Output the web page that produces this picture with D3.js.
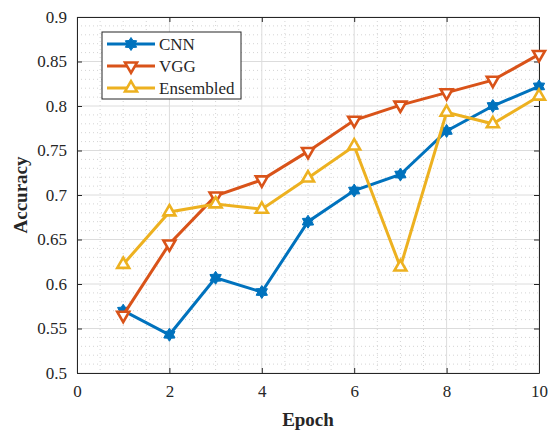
<!DOCTYPE html>
<html>
<head>
<meta charset="utf-8">
<script src="https://cdn.jsdelivr.net/npm/d3@7"></script>
<style>
  body { margin: 0; background: #fff; }
  svg text { font-family: "Liberation Serif", "Times New Roman", serif; }
</style>
</head>
<body>
<div id="chart"></div>
<script>
// data
var epochs = [1, 2, 3, 4, 5, 6, 7, 8, 9, 10];
var cnn = [0.570, 0.543, 0.607, 0.591, 0.670, 0.705, 0.723, 0.772, 0.800, 0.822];
var vgg = [0.565, 0.645, 0.699, 0.717, 0.749, 0.784, 0.801, 0.815, 0.829, 0.858];
var ensembled = [0.622, 0.681, 0.690, 0.684, 0.719, 0.755, 0.619, 0.793, 0.780, 0.811];
var seriesNames = ["CNN", "VGG", "Ensembled"];
var xTicks = [0, 2, 4, 6, 8, 10];
var yTicks = [0.5, 0.55, 0.6, 0.65, 0.7, 0.75, 0.8, 0.85, 0.9];

function init(){
	var w = 548;
	var h = 431;
	var left = 77, right = 539, top = 17, bottom = 373;

	var svg = d3.select("#chart")
		.append("svg")
		.attr("width", w)
		.attr("height", h);

	var x = d3.scaleLinear().domain([0, 10]).range([left, right]);
	var y = d3.scaleLinear().domain([0.5, 0.9]).range([bottom, top]);

	// minor grid (dotted)
	var minorX = d3.range(0, 10.001, 0.5).filter(function(v){ return Math.abs(v % 2) > 0.01; });
	var minorY = d3.range(0.5, 0.9001, 0.01).filter(function(v){
		var r = Math.round(v * 100) % 5; return r !== 0;
	});
	svg.selectAll(".minx").data(minorX).enter().append("line")
		.attr("x1", d => x(d)).attr("x2", d => x(d))
		.attr("y1", top).attr("y2", bottom)
		.attr("stroke", "#d4d4d4").attr("stroke-width", 1)
		.attr("stroke-dasharray", "1,3");
	svg.selectAll(".miny").data(minorY).enter().append("line")
		.attr("x1", left).attr("x2", right)
		.attr("y1", d => y(d)).attr("y2", d => y(d))
		.attr("stroke", "#d4d4d4").attr("stroke-width", 1)
		.attr("stroke-dasharray", "1,3");

	// major grid
	svg.selectAll(".gx").data(xTicks).enter().append("line")
		.attr("x1", d => x(d)).attr("x2", d => x(d))
		.attr("y1", top).attr("y2", bottom)
		.attr("stroke", "#dcdcdc").attr("stroke-width", 1);
	svg.selectAll(".gy").data(yTicks).enter().append("line")
		.attr("x1", left).attr("x2", right)
		.attr("y1", d => y(d)).attr("y2", d => y(d))
		.attr("stroke", "#dcdcdc").attr("stroke-width", 1);

	// axes
	var xAxis = d3.axisBottom(x).tickValues(xTicks).tickSizeInner(-5).tickSizeOuter(0).tickPadding(12);
	var yAxis = d3.axisLeft(y).tickValues(yTicks).tickSizeInner(-5).tickSizeOuter(0).tickPadding(10)
		.tickFormat(function(d){ return d3.format("")(+d.toFixed(2)); });
	var xTop = d3.axisTop(x).tickValues(xTicks).tickSizeInner(-5).tickSizeOuter(0).tickFormat("");
	var yRight = d3.axisRight(y).tickValues(yTicks).tickSizeInner(-5).tickSizeOuter(0).tickFormat("");

	var gx = svg.append("g").attr("transform", "translate(0," + bottom + ")").call(xAxis);
	var gy = svg.append("g").attr("transform", "translate(" + left + ",0)").call(yAxis);
	svg.append("g").attr("transform", "translate(0," + top + ")").call(xTop);
	svg.append("g").attr("transform", "translate(" + right + ",0)").call(yRight);

	svg.selectAll(".domain").attr("stroke", "#262626");
	svg.selectAll(".tick line").attr("stroke", "#262626");
	[gx, gy].forEach(function(g){
		g.attr("font-family", "Liberation Serif").attr("font-size", 17);
		g.selectAll("text").attr("fill", "#262626")
			.style("font-family", "'Liberation Serif', serif").style("font-size", "17px");
	});

	// axis labels
	svg.append("text")
		.attr("x", (left + right) / 2).attr("y", 426)
		.attr("text-anchor", "middle")
		.attr("font-size", 19).attr("font-weight", "bold").attr("fill", "#262626")
		.text("Epoch");
	svg.append("text")
		.attr("transform", "translate(27," + ((top + bottom) / 2) + ") rotate(-90)")
		.attr("text-anchor", "middle")
		.attr("font-size", 19).attr("font-weight", "bold").attr("fill", "#262626")
		.text("Accuracy");

	var colors = ["#0072BD", "#D95319", "#EDB120"];
	var allSeries = [cnn, vgg, ensembled];

	// six-pointed star (hexagram) path
	function hexagram(ro, ri){
		var pts = [];
		for (var i = 0; i < 12; i++){
			var r = i % 2 === 0 ? ro : ri;
			var a = -Math.PI / 2 + i * Math.PI / 6;
			pts.push([r * Math.cos(a), r * Math.sin(a)]);
		}
		return "M" + pts.map(function(p){ return p[0].toFixed(2) + "," + p[1].toFixed(2); }).join("L") + "Z";
	}
	var tri = d3.symbol().type(d3.symbolTriangle).size(62)();
	var markers = [hexagram(6.5, 4), tri, tri];
	var rotations = [0, 180, 0];

	var line = d3.line()
		.x(function(d, i){ return x(epochs[i]); })
		.y(function(d){ return y(d); });

	function styleMarker(sel, k){
		sel.attr("fill", k === 0 ? colors[k] : "#fff")
			.attr("stroke", colors[k])
			.attr("stroke-width", k === 0 ? 1 : 2.6)
			.attr("stroke-linejoin", "miter");
	}

	allSeries.forEach(function(s, k){
		svg.append("path")
			.datum(s)
			.attr("d", line)
			.attr("fill", "none")
			.attr("stroke", colors[k])
			.attr("stroke-width", 3);
		svg.selectAll(".m" + k).data(s).enter().append("path")
			.attr("d", markers[k])
			.attr("transform", function(d, i){
				return "translate(" + x(epochs[i]) + "," + y(d) + ") rotate(" + rotations[k] + ")";
			})
			.call(styleMarker, k);
	});

	// legend
	var lg = svg.append("g");
	lg.append("rect")
		.attr("x", 102).attr("y", 32).attr("width", 139).attr("height", 67)
		.attr("fill", "#fff").attr("stroke", "#262626").attr("stroke-width", 1);
	seriesNames.forEach(function(name, k){
		var ly = 44 + k * 22;
		lg.append("line")
			.attr("x1", 107).attr("x2", 155).attr("y1", ly).attr("y2", ly)
			.attr("stroke", colors[k]).attr("stroke-width", 3);
		lg.append("path")
			.attr("d", markers[k])
			.attr("transform", "translate(131," + ly + ") rotate(" + rotations[k] + ")")
			.call(styleMarker, k);
		lg.append("text")
			.attr("x", 159).attr("y", ly + 6)
			.attr("font-size", 17).attr("fill", "#262626")
			.text(name);
	});
}
window.onload = init;
</script>
</body>
</html>
